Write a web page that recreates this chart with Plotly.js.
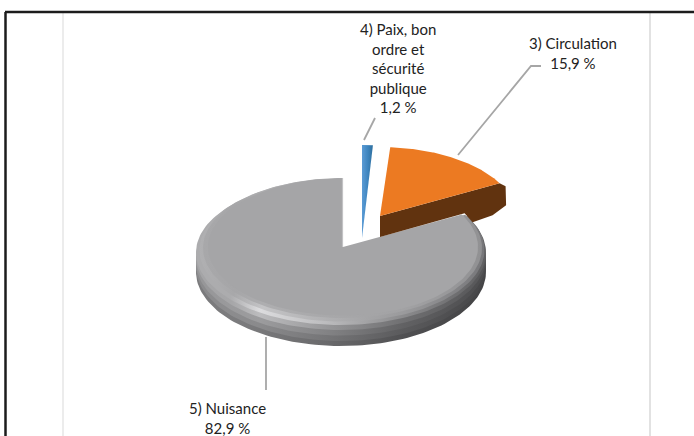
<!DOCTYPE html>
<html><head><meta charset="utf-8">
<script src="https://cdn.plot.ly/plotly-3.0.1.min.js"></script>
<style>html,body{margin:0;padding:0;background:#fff}#c{width:694px;height:436px}</style>
</head><body><div id="c"></div>
<script>
const categories = ["4) Paix, bon<br>ordre et<br>sécurité<br>publique", "3) Circulation", "5) Nuisance"];
const values = [1.2, 15.9, 82.9];
const valueLabels = ["1,2 %", "15,9 %", "82,9 %"];

const total = values.reduce((a, b) => a + b, 0);
const starts = values.map((_, i) => values.slice(0, i).reduce((a, b) => a + b, 0) / total * 2 * Math.PI);
const ends = values.map((v, i) => starts[i] + v / total * 2 * Math.PI);
const N = 160;
function arc(cx, cy, rx, ry, a0, a1) {
  const xs = [], ys = [];
  for (let k = 0; k <= N; k++) {
    const t = a0 + (a1 - a0) * k / N;
    xs.push(cx + rx * Math.sin(t)); ys.push(cy - ry * Math.cos(t));
  }
  return [xs, ys];
}
function area(xs, ys, fill, grad) {
  const t = {type: 'scatter', mode: 'lines', x: xs, y: ys, fill: 'toself', hoverinfo: 'skip', line: {width: 0, color: fill}, showlegend: false};
  if (grad) t.fillgradient = {type: 'horizontal', colorscale: grad}; else t.fillcolor = fill;
  return t;
}
function sector(cx, cy, rx, ry, a0, a1, fill, grad) {
  const [xs, ys] = arc(cx, cy, rx, ry, a0, a1);
  return area([cx, ...xs, cx], [cy, ...ys, cy], fill, grad);
}
function leader(xs, ys) {
  return {type: 'scatter', mode: 'lines', x: xs, y: ys, hoverinfo: 'skip', showlegend: false, line: {color: '#a6a6a6', width: 1.8}};
}
const traces = [];
// Nuisance slice: stacked layers from the dark wall up to the flat face
const gA0 = starts[2], gA1 = ends[2];
const stops = [0, 0.12, 0.22, 0.45, 0.72, 1];
const layerColours = [
  ['#7a7a7c','#7c7c7e','#78787a','#6a6a6c','#505052','#434345'],
  ['#8a8a8c','#8c8c8e','#8a8a8c','#757577','#5a5a5c','#464648'],
  ['#969698','#9a9a9c','#9c9c9e','#838385','#616163','#4c4c4e'],
  ['#a4a4a6','#a6a6a8','#bcbcbe','#979799','#6f6f71','#555557'],
  ['#acacae','#acacae','#dcdcde','#bcbcbe','#8a8a8c','#5f5f61'],
  ['#b0b0b2','#a8a8aa','#c4c4c6','#b0b0b2','#9a9a9c','#77777a'],
  ['#a8a8aa','#a6a6a8','#aeaeb0','#a8a8aa','#a2a2a4','#919193']
];
const layerGeom = [[341, 272, 145, 74], [341, 267, 145, 74], [341, 262, 145, 73.5], [341, 257, 145, 73],
                   [341, 252.5, 145, 72.5], [342, 250, 142.5, 71.5], [342.5, 248, 139.5, 70]];
layerGeom.forEach((g, i) => {
  traces.push(sector(g[0], g[1], g[2], g[3], gA0, gA1, '#888', layerColours[i].map((c, j) => [stops[j], c])));
});
traces.push(sector(343, 247, 135, 68.5, gA0, gA1, '#a5a5a7'));
{
  const [ax, ay] = arc(342.5, 247, 135, 69, 0, 0);
  traces.push({type: 'scatter', mode: 'lines', x: [342.5, ax[0]], y: [247, ay[0]], hoverinfo: 'skip', showlegend: false, line: {color: '#c2c2c4', width: 1.2}});
}
// Circulation slice
const oA0 = starts[1], oA1 = ends[1];
{
  const [ox, oy] = arc(380, 216, 136, 69, oA1, oA1);
  const px = ox[0], py = oy[0];
  traces.push(area([380, px, px + 6, px + 6.5, px - 7, px - 27, px - 35, 380, 380],
                   [216, py, py + 3, py + 22, py + 32, py + 39, py + 30, 237, 216], '#61330f'));
}
traces.push(sector(380, 216, 136, 69, oA0, oA1, '#ec7a22'));
// Paix slice
traces.push(sector(362, 238, 145, 93, starts[0], ends[0], '#3f86c0', [[0,'#5b9bd5'],[0.5,'#3f86c0'],[1,'#2e6f9e']]));
// Leaders
traces.push(leader([364, 375], [140, 118]));
traces.push(leader([458, 531, 541], [155, 66, 66]));
traces.push(leader([266, 266], [337, 390]));

const labelPos = [[398, 68], [573, 53], [227, 418]];
const annotations = categories.map((c, i) => ({
  x: labelPos[i][0], y: labelPos[i][1], xref: 'x', yref: 'y', showarrow: false,
  text: c + '<br>' + valueLabels[i], align: 'center',
  font: {family: 'Lato, sans-serif', size: 15, color: '#222'}
}));

const hline = (x0, x1, y0, y1, color, width) => ({type: 'line', xref: 'x', yref: 'y', x0, x1, y0, y1, line: {color, width}, layer: 'below'});
const layout = {
  width: 694, height: 436, margin: {l: 0, r: 0, t: 0, b: 0},
  paper_bgcolor: '#fff', plot_bgcolor: '#fff', showlegend: false,
  xaxis: {range: [0, 694], visible: false, fixedrange: true},
  yaxis: {range: [436, 0], visible: false, fixedrange: true},
  annotations,
  shapes: [
    hline(63, 63, 13, 436, '#d9d9d9', 1),
    hline(650, 650, 13, 436, '#d9d9d9', 1.5),
    hline(5, 694, 12, 12, '#1c1c1c', 2.5),
    hline(5.5, 5.5, 12, 436, '#1c1c1c', 2.5)
  ]
};
Plotly.newPlot('c', traces, layout, {displayModeBar: false, staticPlot: true});
</script></body></html>
